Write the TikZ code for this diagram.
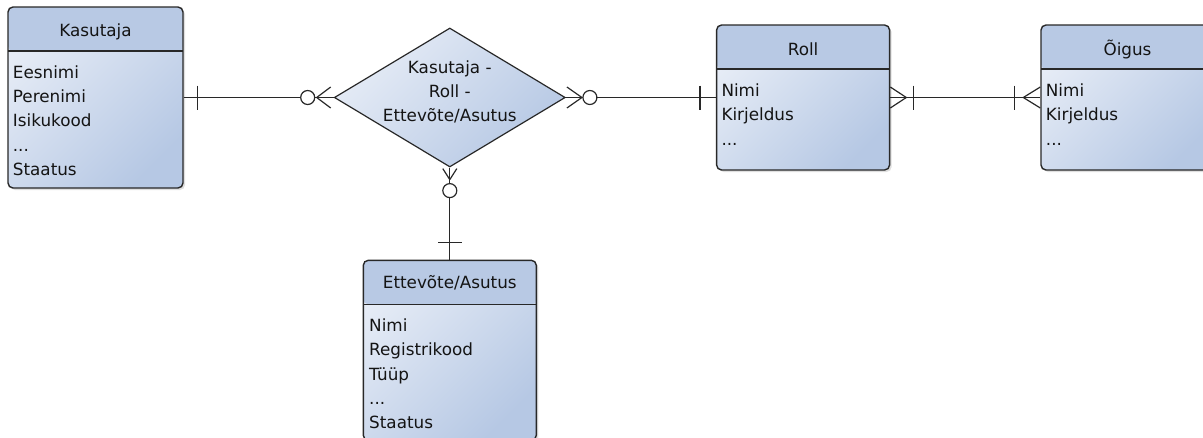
\documentclass[tikz,border=0pt]{standalone}
\usepackage{fontspec}
\setmainfont{DejaVu Sans}
\usepackage{xcolor}
\usepackage{tikz}
\usetikzlibrary{shapes, positioning, calc, shadows, decorations.markings}

\definecolor{linecol}{RGB}{40,40,40}
\definecolor{textcol}{RGB}{20,20,20}
\definecolor{headfill}{RGB}{184,201,228}
\definecolor{bodylight}{RGB}{230,236,246}
\definecolor{bodydark}{RGB}{182,200,228}

\tikzset{
    barAt/.style={postaction={decorate, decoration={markings, mark=at position #1 with {\draw (0,-12) -- (0,12);}}}},
    ringAt/.style={postaction={decorate, decoration={markings, mark=at position #1 with {\draw[fill=white] (0,0) circle (7pt);}}}},
    footStart/.style n args={3}{postaction={decorate, decoration={markings, mark=at position 0 with {\draw (#1+#2,0) -- (#1,#3) (#1+#2,0) -- (#1,-#3);}}}},
    footEnd/.style n args={3}{postaction={decorate, decoration={markings, mark=at position 1 with {\draw (-#1-#2,0) -- (-#1,#3) (-#1-#2,0) -- (-#1,-#3);}}}}
}

\begin{document}
\begin{tikzpicture}[x=1pt, y=-1pt, line width=1.2pt, color=linecol, text=textcol, font=\fontsize{16.8pt}{24.3pt}\selectfont]
    \useasboundingbox (0,0) rectangle (1203,437);
    % Styles
    \tikzstyle{entity} = [rectangle, draw=linecol, line width=1.4pt, rounded corners=5pt, minimum width=173pt, left color=bodylight, right color=bodydark, shading angle=45, drop shadow={shadow xshift=2pt, shadow yshift=-2pt, opacity=.25}, path picture={\fill[headfill] (path picture bounding box.north west) rectangle ([yshift=-44pt]path picture bounding box.north east); \draw[line width=1.4pt] ([yshift=-44pt]path picture bounding box.north west) -- ([yshift=-44pt]path picture bounding box.north east);}]
    \tikzstyle{title} = [inner sep=0pt, minimum height=44pt]
    \tikzstyle{attrs} = [inner sep=0pt, align=left]
    \tikzstyle{rel} = [diamond, draw=linecol, line width=1.2pt, minimum width=231pt, minimum height=139pt, inner sep=-20pt, align=center, text depth=13pt, left color=bodylight, right color=bodydark, shading angle=45]
    \tikzstyle{link} = [draw, line width=1.2pt]

    % Entities
    \node [entity, minimum width=175pt, minimum height=181pt] (kasutaja) at (95.5,97.5) {};
    \node [rel, right=150pt of kasutaja] (seos) {Kasutaja -\\Roll -\\Ettevõte/Asutus};
    \node [entity, minimum height=145pt, right=150pt of seos] (roll) {};
    \node [entity, minimum height=145pt, right=150pt of roll] (oigus) {};
    \node [entity, minimum height=180pt, below=92pt of seos] (ettevote) {};

    % Titles
    \node [title, below=2.5pt of kasutaja.north] (kasutajaTitle) {Kasutaja};
    \node [title, below=2.5pt of roll.north] (rollTitle) {Roll};
    \node [title, below=2.5pt of oigus.north] (oigusTitle) {Õigus};
    \node [title, below=1pt of ettevote.north] (ettevoteTitle) {Ettevõte/Asutus};

    % Attributes
    \node [attrs, below right=58.5pt and 5pt of kasutaja.north west] (kasutajaAttr) {Eesnimi\\Perenimi\\Isikukood\\...\\Staatus};
    \node [attrs, below right=59pt and 5pt of roll.north west] (rollAttr) {Nimi\\Kirjeldus\\...};
    \node [attrs, below right=59pt and 5pt of oigus.north west] (oigusAttr) {Nimi\\Kirjeldus\\...};
    \node [attrs, below right=58.5pt and 6pt of ettevote.north west] (ettevoteAttr) {Nimi\\Registrikood\\Tüüp\\...\\Staatus};

    % Connections
    \draw [link, barAt=14pt, ringAt=-26pt, footEnd={3}{14}{10.5}] (kasutaja) -- (seos);
    \draw [link, footStart={1}{15}{10.5}, ringAt=24pt, barAt=-16pt] (seos) -- (roll);
    \draw [link, footStart={1}{11}{7}, ringAt=23pt, barAt=-17pt] (seos) -- (ettevote);
    \draw [link, footStart={0}{16}{10.5}, barAt=23pt, barAt=-26pt, footEnd={0}{17}{10.5}] (roll) -- (oigus);
\end{tikzpicture}
\end{document}
